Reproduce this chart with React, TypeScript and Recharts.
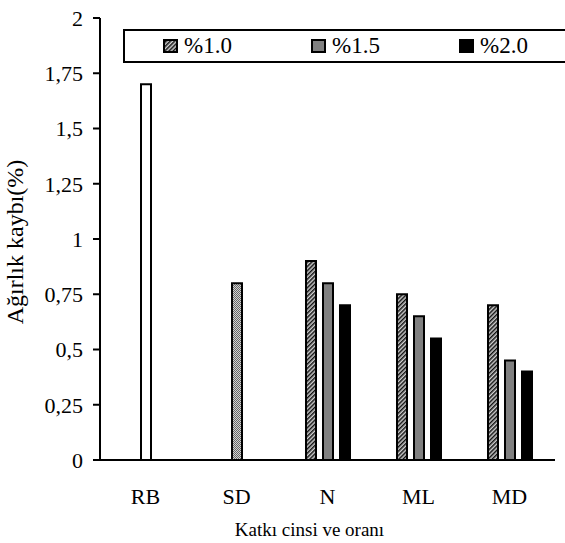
import React from "react";
import { BarChart, Bar, XAxis, YAxis, Legend, Cell } from "recharts";

// categories and values
const categories = ["RB", "SD", "N", "ML", "MD"];
const dose10 = [null, null, 0.9, 0.75, 0.7];
const dose15 = [null, null, 0.8, 0.65, 0.45];
const dose20 = [null, null, 0.7, 0.55, 0.4];
// reference / single-dose bars drawn centred in their category
const single = [1.7, 0.8, null, null, null];
const yTicks = [0, 0.25, 0.5, 0.75, 1, 1.25, 1.5, 1.75, 2];

const seriesNames = ["%1.0", "%1.5", "%2.0"];

const data = categories.map((cat, i) => ({
  cat,
  d10: dose10[i],
  d15: dose15[i],
  d20: dose20[i],
  single: single[i],
}));

const FONT = '"Liberation Serif", "Times New Roman", Times, "DejaVu Serif", serif';

const fmt = (v: number) => String(v).replace(".", ",");

function LegendBox() {
  const fills = ["url(#hatch)", "#808080", "#000"];
  return (
    <div
      style={{
        position: "absolute",
        left: 123,
        top: 29,
        width: 450,
        height: 30,
        border: "2px solid #000",
        background: "#fff",
        fontFamily: FONT,
        fontSize: 23,
      }}
    >
      {seriesNames.map((n, i) => (
        <div
          key={n}
          style={{ position: "absolute", left: 38 + i * 148, top: 2, display: "flex", alignItems: "center", height: 26 }}
        >
          <svg width={15} height={14} style={{ marginRight: 6 }}>
            <rect x={1} y={1} width={13} height={12} fill={fills[i]} stroke="#000" strokeWidth={2} />
          </svg>
          <span>{n}</span>
        </div>
      ))}
    </div>
  );
}

export default function App() {
  return (
    <div style={{ position: "absolute", left: 0, top: 0, width: 565, height: 543, background: "#fff", overflow: "hidden", fontFamily: FONT }}>
      <BarChart
        width={565}
        height={543}
        data={data}
        margin={{ top: 18, right: 10, bottom: 0, left: 0 }}
        barGap={7}
        style={{ fontFamily: FONT }}
      >
        <defs>
          <pattern id="hatch" width="3" height="3" patternUnits="userSpaceOnUse" patternTransform="rotate(45)">
            <rect width="3" height="3" fill="#cfcfcf" />
            <line x1="0.75" y1="0" x2="0.75" y2="3" stroke="#111" strokeWidth="1.5" />
          </pattern>
          <pattern id="dots" width="2" height="2" patternUnits="userSpaceOnUse">
            <rect width="2" height="2" fill="#d0d0d0" />
            <rect width="1" height="1" fill="#666" />
            <rect x="1" y="1" width="1" height="1" fill="#666" />
          </pattern>
        </defs>
        <XAxis
          xAxisId="g"
          dataKey="cat"
          height={83}
          tickLine={false}
          axisLine={{ stroke: "#000", strokeWidth: 2 }}
          tick={{ fill: "#000", fontSize: 22, fontFamily: FONT }}
          tickMargin={22}
          label={{ value: "Katkı cinsi ve oranı", position: "insideBottom", offset: 7, dx: -18, fill: "#000", fontSize: 19, fontFamily: FONT }}
        />
        <XAxis xAxisId="s" dataKey="cat" hide />
        <XAxis xAxisId="top" orientation="top" dataKey="cat" height={0} tick={false} tickLine={false} axisLine={{ stroke: "#000", strokeWidth: 2 }} />
        <YAxis
          yAxisId="l"
          domain={[0, 2]}
          ticks={yTicks}
          width={100}
          tickSize={7}
          tickMargin={10}
          tickFormatter={fmt}
          axisLine={{ stroke: "#000", strokeWidth: 2 }}
          tickLine={{ stroke: "#000", strokeWidth: 2 }}
          tick={{ fill: "#000", fontSize: 22, fontFamily: FONT }}
          label={{ value: "Ağırlık kaybı(%)", angle: -90, position: "insideLeft", offset: 14, dy: 3, fill: "#000", fontSize: 24, fontFamily: FONT, style: { textAnchor: "middle" } }}
        />
        <YAxis yAxisId="r" orientation="right" domain={[0, 2]} width={0} tick={false} tickLine={false} axisLine={{ stroke: "#000", strokeWidth: 2 }} />
        <Legend content={() => <LegendBox />} wrapperStyle={{ position: "absolute", left: 0, top: 0 }} />
        <Bar dataKey="d10" name="%1.0" xAxisId="g" yAxisId="l" barSize={10} fill="url(#hatch)" stroke="#000" strokeWidth={2} isAnimationActive={false} />
        <Bar dataKey="d15" name="%1.5" xAxisId="g" yAxisId="l" barSize={10} fill="#808080" stroke="#000" strokeWidth={2} isAnimationActive={false} />
        <Bar dataKey="d20" name="%2.0" xAxisId="g" yAxisId="l" barSize={10} fill="#000" stroke="#000" strokeWidth={2} isAnimationActive={false} />
        <Bar dataKey="single" xAxisId="s" yAxisId="l" barSize={10} stroke="#000" strokeWidth={2} isAnimationActive={false} legendType="none">
          {data.map((d, i) => (
            <Cell key={d.cat} fill={i === 0 ? "#fff" : "url(#dots)"} />
          ))}
        </Bar>
      </BarChart>
    </div>
  );
}
